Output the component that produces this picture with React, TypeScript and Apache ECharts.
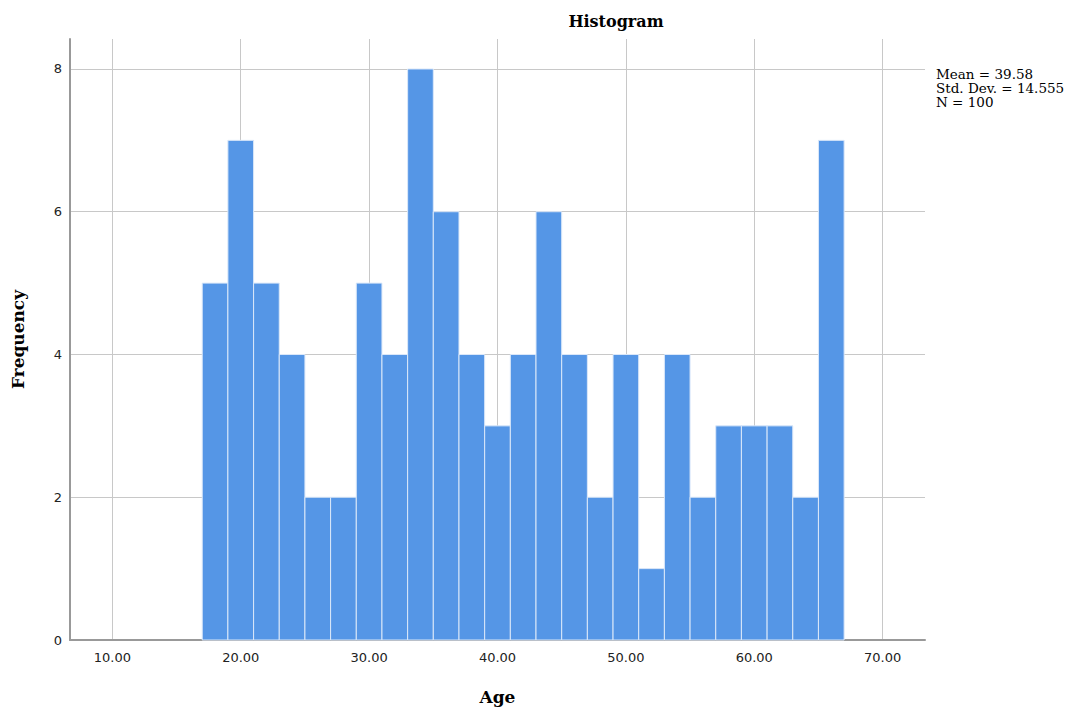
import React, { useEffect, useRef } from "react";
import * as echarts from "echarts";

const binStarts = [17, 19, 21, 23, 25, 27, 29, 31, 33, 35, 37, 39, 41, 43, 45, 47, 49, 51, 53, 55, 57, 59, 61, 63, 65];
const binEnds = [19, 21, 23, 25, 27, 29, 31, 33, 35, 37, 39, 41, 43, 45, 47, 49, 51, 53, 55, 57, 59, 61, 63, 65, 67];
const frequencies = [5, 7, 5, 4, 2, 2, 5, 4, 8, 6, 4, 3, 4, 6, 4, 2, 4, 1, 4, 2, 3, 3, 3, 2, 7];
const xTicks = [10, 20, 30, 40, 50, 60, 70];
const yTicks = [0, 2, 4, 6, 8];
const statsLines = ["Mean = 39.58", "Std. Dev. = 14.555", "N = 100"];

export default function App() {
  const ref = useRef<HTMLDivElement>(null);
  useEffect(() => {
    document.body.style.margin = "0";
    if (!ref.current) return;
    const chart = echarts.init(ref.current, null, { renderer: "svg" });
    const data = binStarts.map((s, i) => [s, binEnds[i], frequencies[i]]);
    chart.setOption({
      animation: false,
      backgroundColor: "#ffffff",
      grid: { left: 70, right: 143, top: 39, bottom: 73 },
      title: {
        text: "Histogram",
        left: 611,
        top: 8,
        textAlign: "center",
        textStyle: { fontFamily: "DejaVu Serif", fontWeight: "bold", fontSize: 16, color: "#000" },
      },
      graphic: [
        {
          type: "text",
          left: 936,
          top: 67,
          style: {
            text: statsLines.join("\n"),
            fontFamily: "DejaVu Serif",
            fontSize: 13.5,
            lineHeight: 14,
            fill: "#000",
          },
        },
      ],
      xAxis: {
        type: "value",
        min: 6.7,
        max: 73.3,
        name: "Age",
        nameLocation: "middle",
        nameGap: 48,
        nameTextStyle: { fontFamily: "DejaVu Serif", fontWeight: "bold", fontSize: 17, color: "#000" },
        axisLine: { show: true, lineStyle: { color: "#999", width: 2 } },
        axisTick: { show: false, customValues: xTicks },
        axisLabel: {
          customValues: xTicks,
          formatter: (v: number) => v.toFixed(2),
          fontFamily: "DejaVu Sans",
          fontSize: 13,
          color: "#222",
          margin: 11,
        },
        splitLine: { show: true, lineStyle: { color: "#c8c8c8", width: 1 } },
      },
      yAxis: {
        type: "value",
        min: 0,
        max: 8.42,
        name: "Frequency",
        nameLocation: "middle",
        nameGap: 44,
        nameTextStyle: { fontFamily: "DejaVu Serif", fontWeight: "bold", fontSize: 17, color: "#000" },
        axisLine: { show: true, lineStyle: { color: "#999", width: 2 } },
        axisTick: { show: false, customValues: yTicks },
        axisLabel: {
          customValues: yTicks,
          fontFamily: "DejaVu Sans",
          fontSize: 13,
          color: "#222",
          margin: 8,
        },
        splitLine: { show: true, lineStyle: { color: "#c8c8c8", width: 1 } },
      },
      series: [
        {
          type: "custom",
          data,
          encode: { x: [0, 1], y: 2 },
          renderItem: (params: any, api: any) => {
            const x0 = api.value(0);
            const x1 = api.value(1);
            const y = api.value(2);
            const p0 = api.coord([x0, y]);
            const p1 = api.coord([x1, 0]);
            return {
              type: "rect",
              shape: { x: p0[0], y: p0[1], width: p1[0] - p0[0], height: p1[1] - p0[1] },
              style: { fill: "#5596e6", stroke: "#dbe8f9", lineWidth: 1 },
            };
          },
          z: 2,
        },
      ],
    });
    return () => chart.dispose();
  }, []);
  return <div ref={ref} style={{ width: 1068, height: 713 }} />;
}
